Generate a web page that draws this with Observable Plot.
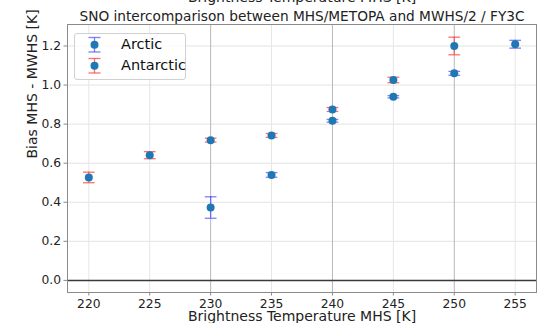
<!DOCTYPE html>
<html>
<head>
<meta charset="utf-8">
<script src="https://cdn.jsdelivr.net/npm/d3@7"></script>
<script src="https://cdn.jsdelivr.net/npm/@observablehq/plot@0.6"></script>
<style>
  html, body { margin: 0; padding: 0; background: #fff; }
  #wrap { position: relative; width: 541px; height: 323px; font-family: "DejaVu Sans", sans-serif; overflow: hidden; }
  #legend { position: absolute; left: 74px; top: 33px; width: 110px; height: 45px; border: 1px solid #d0d0d0; border-radius: 3px; background: rgba(255,255,255,0.8); font-size: 14.5px; color: #111; }
  .row { position: absolute; left: 0; height: 20px; width: 110px; }
  .row svg { position: absolute; left: 12px; top: 0; }
  .row span { position: absolute; left: 46px; top: 1px; }
</style>
</head>
<body>
<div id="wrap"></div>
<script>
// ---- data ----
const arcticX   = [230, 235, 240, 245, 250, 255];
const arcticY   = [0.373, 0.540, 0.817, 0.940, 1.060, 1.209];
const arcticErr = [0.055, 0.012, 0.007, 0.006, 0.010, 0.020];

const antarcticX   = [220, 225, 230, 235, 240, 245, 250];
const antarcticY   = [0.527, 0.641, 0.718, 0.742, 0.875, 1.026, 1.200];
const antarcticErr = [0.027, 0.018, 0.010, 0.010, 0.010, 0.014, 0.045];

const xTicks = [220, 225, 230, 235, 240, 245, 250, 255];
const xMajorGrid = [230, 240, 250];
const xMinorGrid = [220, 225, 235, 245, 255];
const yTicks = [0.0, 0.2, 0.4, 0.6, 0.8, 1.0, 1.2];

const titleTop = "Brightness Temperature MHS [K]";
const title = "SNO intercomparison between MHS/METOPA and MWHS/2 / FY3C";
const xLabel = "Brightness Temperature MHS [K]";
const yLabel = "Bias MHS - MWHS [K]";

const arctic = arcticX.map((x, i) => ({x, y: arcticY[i], e: arcticErr[i]}));
const antarctic = antarcticX.map((x, i) => ({x, y: antarcticY[i], e: antarcticErr[i]}));

const CAP = 0.48;
const blueErr = "#3a3aff", redErr = "#ff3030";
const dotColor = "#1f77b4";

function errMarks(data, color, op) {
  return [
    Plot.ruleX(data, {x: "x", y1: d => d.y - d.e, y2: d => d.y + d.e, stroke: color, strokeOpacity: op, strokeWidth: 1.3}),
    Plot.link(data, {x1: d => d.x - CAP, x2: d => d.x + CAP, y1: d => d.y - d.e, y2: d => d.y - d.e, stroke: color, strokeOpacity: op, strokeWidth: 1.3}),
    Plot.link(data, {x1: d => d.x - CAP, x2: d => d.x + CAP, y1: d => d.y + d.e, y2: d => d.y + d.e, stroke: color, strokeOpacity: op, strokeWidth: 1.3})
  ];
}

const chart = Plot.plot({
  width: 541,
  height: 323,
  marginTop: 24,
  marginLeft: 67,
  marginRight: 5,
  marginBottom: 31,
  style: {fontFamily: "DejaVu Sans, sans-serif", color: "#222", background: "#fff", overflow: "visible"},
  x: {domain: [218.25, 256.75]},
  y: {domain: [-0.062, 1.31]},
  marks: [
    Plot.ruleY(yTicks, {stroke: "#e3e3e3", strokeWidth: 1}),
    Plot.ruleX(xMinorGrid, {stroke: "#e6e6e6", strokeWidth: 1}),
    Plot.ruleX(xMajorGrid, {stroke: "#b8b8b8", strokeWidth: 1}),
    Plot.ruleY([0], {stroke: "#3a3a3a", strokeWidth: 1.5}),
    Plot.frame({stroke: "#8a8a8a", strokeWidth: 1}),
    Plot.axisX({ticks: xTicks, tickSize: 3.5, tickPadding: 3, fontSize: 12.3, label: null, stroke: "#8a8a8a", color: "#222"}),
    Plot.axisY({ticks: yTicks, tickSize: 3.5, tickPadding: 3, fontSize: 12.3, tickFormat: d3.format(".1f"), label: null, stroke: "#8a8a8a", color: "#222"}),
    ...errMarks(arctic, blueErr, 0.65),
    ...errMarks(antarctic, redErr, 0.7),
    Plot.dot(arctic, {x: "x", y: "y", r: 4, fill: dotColor}),
    Plot.dot(antarctic, {x: "x", y: "y", r: 4, fill: dotColor}),
    Plot.text([titleTop], {frameAnchor: "top", dy: -23, fontSize: 14, lineAnchor: "bottom", fill: "#222"}),
    Plot.text([title], {frameAnchor: "top", dy: -4, fontSize: 13.7, lineAnchor: "bottom", fill: "#222"}),
    Plot.text([xLabel], {frameAnchor: "bottom", dy: 28, fontSize: 14, lineAnchor: "bottom", fill: "#222"}),
    Plot.text([yLabel], {frameAnchor: "left", dx: -35, rotate: -90, fontSize: 14, fill: "#222"})
  ]
});

const wrap = document.getElementById("wrap");
wrap.appendChild(chart);

// legend
const legend = document.createElement("div");
legend.id = "legend";
function row(label, color, op, top) {
  const r = document.createElement("div");
  r.className = "row";
  r.style.top = top + "px";
  r.innerHTML = `<svg width="20" height="20" viewBox="0 0 20 20">
    <line x1="7.5" x2="7.5" y1="2.5" y2="17" stroke="${color}" stroke-opacity="${op}" stroke-width="1.3"/>
    <line x1="1.5" x2="13.5" y1="2.5" y2="2.5" stroke="${color}" stroke-opacity="${op}" stroke-width="1.3"/>
    <line x1="1.5" x2="13.5" y1="17" y2="17" stroke="${color}" stroke-opacity="${op}" stroke-width="1.3"/>
    <circle cx="7.5" cy="9.8" r="4" fill="${dotColor}"/></svg><span>${label}</span>`;
  legend.appendChild(r);
}
row("Arctic", blueErr, 0.65, 1);
row("Antarctic", redErr, 0.7, 22);
wrap.appendChild(legend);
</script>
</body>
</html>
